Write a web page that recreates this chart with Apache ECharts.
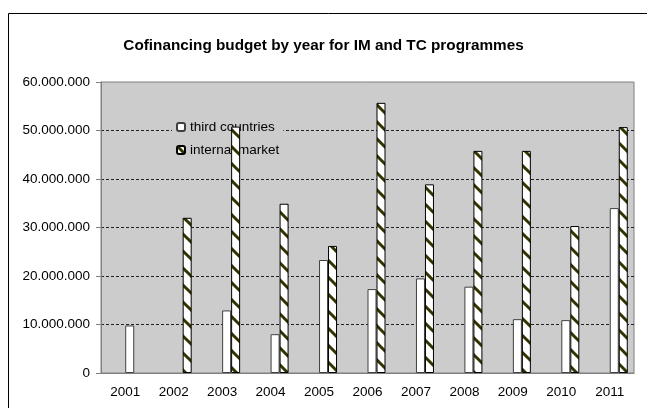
<!DOCTYPE html>
<html>
<head>
<meta charset="utf-8">
<script src="https://cdn.jsdelivr.net/npm/echarts@6/dist/echarts.min.js"></script>
<style>
  html, body { margin: 0; padding: 0; background: #fff; }
  #chart { width: 647px; height: 408px; }
</style>
</head>
<body>
<div id="chart"></div>
<script>
const years = ["2001", "2002", "2003", "2004", "2005", "2006", "2007", "2008", "2009", "2010", "2011"];
const thirdCountries = [9800000, null, 12900000, 8000000, 23300000, 17300000, 19500000, 17800000, 11100000, 10900000, 34000000];
const internalMarket = [null, 32000000, 50800000, 34900000, 26200000, 55700000, 38900000, 45800000, 45800000, 30300000, 50700000];
const yTicks = [0, 10000000, 20000000, 30000000, 40000000, 50000000, 60000000];

// diagonal stripe fill like the excel pattern
function stripes() {
  const s = 17;
  const c = document.createElement("canvas");
  c.width = s; c.height = s;
  const ctx = c.getContext("2d");
  ctx.fillStyle = "#ffffff";
  ctx.fillRect(0, 0, s, s);
  ctx.strokeStyle = "#333300";
  ctx.lineWidth = 3;
  for (const off of [-s, 0, s]) {
    ctx.beginPath();
    ctx.moveTo(off - 2, -2);
    ctx.lineTo(off + s + 2, s + 2);
    ctx.stroke();
  }
  return c;
}

const fmt = v => String(v).replace(/\B(?=(\d{3})+(?!\d))/g, ".");
const font = "Liberation Sans, Arial, sans-serif";

const chart = echarts.init(document.getElementById("chart"));
chart.setOption({
  animation: false,
  textStyle: { fontFamily: font },
  title: {
    text: "Cofinancing budget by year for IM and TC programmes",
    left: "center",
    top: 33,
    textStyle: { fontSize: 15.3, fontWeight: "bold", color: "#000", fontFamily: font },
  },
  graphic: [{
    type: "rect",
    shape: { x: 8.5, y: 13.5, width: 645, height: 400 },
    style: { fill: "none", stroke: "#000", lineWidth: 1 },
    silent: true,
  }],
  legend: {
    data: ["third countries", "internal market"],
    orient: "vertical",
    left: 172,
    top: 118,
    padding: [2, 4, 2, 4],
    itemGap: 9,
    itemWidth: 8,
    itemHeight: 8,
    z: 1,
    backgroundColor: "#cccccc",
    textStyle: { fontSize: 13.5, color: "#000", fontFamily: font },
  },
  grid: {
    left: 101, right: 13, top: 82, bottom: 35,
    show: true,
    backgroundColor: "#cccccc",
    borderColor: "#808080",
    borderWidth: 1,
  },
  xAxis: {
    type: "category",
    data: years,
    axisLine: { lineStyle: { color: "#808080" } },
    axisTick: { length: 5, lineStyle: { color: "#808080" } },
    axisLabel: { fontSize: 13.5, color: "#000", margin: 12 },
  },
  yAxis: {
    type: "value",
    min: yTicks[0],
    max: yTicks[yTicks.length - 1],
    interval: yTicks[1] - yTicks[0],
    axisLine: { show: true, lineStyle: { color: "#808080" } },
    axisTick: { show: true, length: 5, lineStyle: { color: "#808080" } },
    axisLabel: { fontSize: 13.5, color: "#000", margin: 11, formatter: fmt },
    splitLine: { showMaxLine: false, lineStyle: { color: "#222", type: [3, 2] } },
  },
  series: [
    // two empty slots, the excel chart reserves space for them
    { type: "bar", data: [], barWidth: 9, barGap: 0 },
    { type: "bar", data: [], barWidth: 9, barGap: 0 },
    {
      name: "third countries",
      type: "bar",
      data: thirdCountries,
      barWidth: 9,
      barGap: 0,
      z: 2,
      itemStyle: { color: "#ffffff", borderColor: "#404040", borderWidth: 1 },
    },
    {
      name: "internal market",
      type: "bar",
      data: internalMarket,
      barWidth: 9,
      barGap: 0,
      z: 2,
      itemStyle: { color: { image: stripes(), repeat: "repeat" }, borderColor: "#000", borderWidth: 1 },
    },
  ],
});
</script>
</body>
</html>
